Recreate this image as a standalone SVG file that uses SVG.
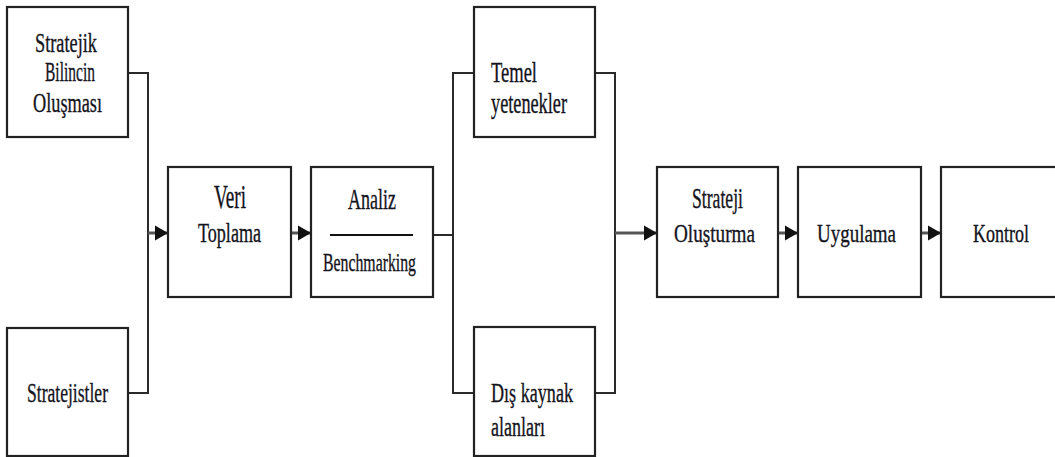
<svg xmlns="http://www.w3.org/2000/svg" width="1055" height="457" viewBox="0 0 1055 457">
<style>
.box{fill:#fff;stroke:#222;stroke-width:2.2}
.ln{fill:none;stroke:#2a2a2a;stroke-width:2}
.ar{fill:none;stroke:#555;stroke-width:3;marker-end:url(#ah)}
text{font-family:"Liberation Serif","Times New Roman",serif;fill:#141420;stroke:#141420;stroke-width:0.35}
</style>
<defs>
<marker id="ah" markerUnits="userSpaceOnUse" markerWidth="16" markerHeight="16" refX="13" refY="8" orient="auto">
<path d="M0,0.5 L13,8 L0,15.5 Z" fill="#111"/>
</marker>
</defs>
<rect width="1055" height="457" fill="#fff"/>
<g id="connectors">
<polyline class="ln" points="128,73 148,73 148,393 128,393"/>
<line class="ar" x1="148" y1="233" x2="168" y2="233"/>
<line class="ar" x1="291" y1="233" x2="311" y2="233"/>
<line class="ln" x1="433" y1="235" x2="453" y2="235"/>
<polyline class="ln" points="474,73 453,73 453,393 474,393"/>
<polyline class="ln" points="595,73 615,73 615,393 595,393"/>
<line class="ar" x1="615" y1="233" x2="657" y2="233"/>
<line class="ar" x1="778" y1="233" x2="798" y2="233"/>
<line class="ar" x1="921" y1="233" x2="941" y2="233"/>
</g>
<g id="n1">
<rect class="box" x="7" y="7" width="121" height="130"/>
<text x="35" y="52" font-size="28" textLength="62" lengthAdjust="spacingAndGlyphs">Stratejik</text>
<text x="45" y="81" font-size="28" textLength="50" lengthAdjust="spacingAndGlyphs">Bilincin</text>
<text x="33" y="112" font-size="28" textLength="69" lengthAdjust="spacingAndGlyphs">Oluşması</text>
</g>
<g id="n2">
<rect class="box" x="7" y="328" width="121" height="128"/>
<text x="27" y="402" font-size="28" textLength="81" lengthAdjust="spacingAndGlyphs">Stratejistler</text>
</g>
<g id="n3">
<rect class="box" x="168" y="167" width="123" height="130"/>
<text x="214" y="208" font-size="33" textLength="32" lengthAdjust="spacingAndGlyphs">Veri</text>
<text x="198" y="242" font-size="27" textLength="63" lengthAdjust="spacingAndGlyphs">Toplama</text>
</g>
<g id="n4">
<rect class="box" x="311" y="167" width="122" height="130"/>
<text x="348" y="209" font-size="30" textLength="48" lengthAdjust="spacingAndGlyphs">Analiz</text>
<line x1="330" y1="235" x2="413" y2="235" stroke="#111" stroke-width="2"/>
<text x="323" y="271" font-size="25" textLength="93" lengthAdjust="spacingAndGlyphs">Benchmarking</text>
</g>
<g id="n5">
<rect class="box" x="474" y="7" width="121" height="130"/>
<text x="491" y="82" font-size="30" textLength="46" lengthAdjust="spacingAndGlyphs">Temel</text>
<text x="491" y="113" font-size="30" textLength="76" lengthAdjust="spacingAndGlyphs">yetenekler</text>
</g>
<g id="n6">
<rect class="box" x="474" y="327" width="121" height="129"/>
<text x="491" y="402" font-size="28" textLength="82" lengthAdjust="spacingAndGlyphs">Dış kaynak</text>
<text x="491" y="436" font-size="28" textLength="54" lengthAdjust="spacingAndGlyphs">alanları</text>
</g>
<g id="n7">
<rect class="box" x="657" y="167" width="121" height="130"/>
<text x="692" y="208" font-size="30" textLength="51" lengthAdjust="spacingAndGlyphs">Strateji</text>
<text x="674" y="242" font-size="25" textLength="81" lengthAdjust="spacingAndGlyphs">Oluşturma</text>
</g>
<g id="n8">
<rect class="box" x="798" y="167" width="123" height="130"/>
<text x="817" y="242" font-size="25" textLength="79" lengthAdjust="spacingAndGlyphs">Uygulama</text>
</g>
<g id="n9">
<rect class="box" x="941" y="167" width="125" height="130"/>
<text x="973" y="242" font-size="26" textLength="56" lengthAdjust="spacingAndGlyphs">Kontrol</text>
</g>
</svg>
